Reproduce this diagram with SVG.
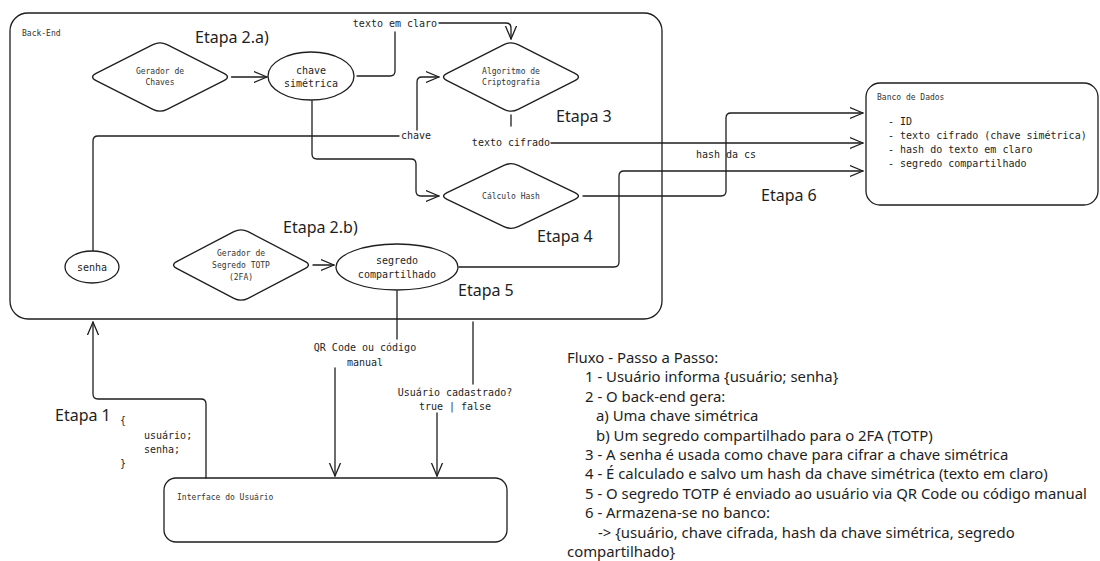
<svg xmlns="http://www.w3.org/2000/svg" width="1100" height="561" viewBox="0 0 1100 561">
<defs>
<marker id="arr" markerUnits="userSpaceOnUse" markerWidth="16" markerHeight="14" refX="13" refY="7" orient="auto">
<path d="M0,1.5 L13,7 L0,12.5" fill="none" stroke="#1e1e1e" stroke-width="1.3" stroke-linecap="round" stroke-linejoin="round"/>
</marker>
</defs>
<style>
.s{fill:none;stroke:#1e1e1e;stroke-width:1.3;stroke-linecap:round;stroke-linejoin:round}
.w{fill:#ffffff;stroke:#1e1e1e;stroke-width:1.3}
.m{font-family:"DejaVu Sans Mono","Liberation Mono",monospace;fill:#1e1e1e}
.m8{font-size:8px;fill:#333333}
.m10{font-size:10px}
.c{text-anchor:middle}
.e{font-family:"Noto Sans","Liberation Sans",sans-serif;font-size:16px;fill:#1e1e1e}
.f{font-family:"Noto Sans","Liberation Sans",sans-serif;font-size:14.9px;fill:#1e1e1e}
</style>
<rect width="1100" height="561" fill="#ffffff"/>

<g id="backend">
<rect x="10" y="13" width="652" height="306" rx="18" class="s"/>
<text x="22" y="36" class="m m8">Back-End</text>
</g>

<g id="banco">
<rect x="866" y="83" width="232" height="122" rx="14" class="w"/>
<text x="877" y="100" class="m m8">Banco de Dados</text>
<text x="888" y="125" class="m m10">- ID</text>
<text x="888" y="139" class="m m10">- texto cifrado (chave simétrica)</text>
<text x="888" y="153" class="m m10">- hash do texto em claro</text>
<text x="888" y="167" class="m m10">- segredo compartilhado</text>
</g>

<g id="interface">
<rect x="164" y="478" width="343" height="64" rx="12" class="w"/>
<text x="177" y="500" class="m m8">Interface do Usuário</text>
</g>

<g id="connectors">
<path d="M231.5,77 L267,77" class="s" marker-end="url(#arr)"/>
<path d="M357,76 L390,76 Q395,76 395,71 L395,32" class="s"/>
<path d="M439,23 L506,23 Q511,23 511,28 L511,39" class="s" marker-end="url(#arr)"/>
<path d="M93,251 L93,141 Q93,136 98,136 L399,136" class="s"/>
<path d="M417,130 L417,82 Q417,77 422,77 L439,77" class="s" marker-end="url(#arr)"/>
<path d="M511,115 L511,126" class="s"/>
<path d="M551,143 L863,143" class="s" marker-end="url(#arr)"/>
<path d="M312,101 L312,154 Q312,159 317,159 L411,159 Q416,159 416,164 L416,191 Q416,196 421,196 L439,196" class="s" marker-end="url(#arr)"/>
<path d="M583,196 L721,196 Q726,196 726,191 L726,118 Q726,113 731,113 L863,113" class="s" marker-end="url(#arr)"/>
<path d="M459,267 L614,267 Q619,267 619,262 L619,176 Q619,171 624,171 L863,171" class="s" marker-end="url(#arr)"/>
<path d="M313,265 L334,265" class="s" marker-end="url(#arr)"/>
<path d="M397,291 L397,339" class="s"/>
<path d="M335,368 L335,476" class="s" marker-end="url(#arr)"/>
<path d="M473,322 L473,384" class="s"/>
<path d="M437,413 L437,476" class="s" marker-end="url(#arr)"/>
<path d="M206,478 L206,404 Q206,399 201,399 L98,399 Q93,399 93,394 L93,322" class="s" marker-end="url(#arr)"/>
<text x="395" y="26.5" class="m m10 c">texto em claro</text>
<text x="416" y="138.5" class="m m10 c">chave</text>
<text x="511" y="146" class="m m10 c">texto cifrado</text>
<text x="726" y="157.5" class="m m10 c">hash da cs</text>
<text x="365" y="350.5" class="m m10 c">QR Code ou código</text>
<text x="365" y="365.5" class="m m10 c">manual</text>
<text x="455" y="395.5" class="m m10 c">Usuário cadastrado?</text>
<text x="455" y="409.5" class="m m10 c">true | false</text>
</g>

<g id="gerador-chaves">
<path d="M96.1,73.4 L152.9,44.6 Q160,41 167.1,44.6 L223.9,73.4 Q231,77 223.9,80.6 L167.1,109.4 Q160,113 152.9,109.4 L96.1,80.6 Q89,77 96.1,73.4 Z" class="w"/>
<text x="160" y="74" class="m m8 c">Gerador de</text>
<text x="160" y="85" class="m m8 c">Chaves</text>
</g>

<g id="chave-simetrica">
<ellipse cx="311" cy="76" rx="43" ry="24" class="w"/>
<text x="311" y="73.5" class="m m10 c">chave</text>
<text x="311" y="87" class="m m10 c">simétrica</text>
</g>

<g id="algoritmo">
<path d="M447.1,73.4 L503.9,44.6 Q511,41 518.1,44.6 L574.9,73.4 Q582,77 574.9,80.6 L518.1,109.4 Q511,113 503.9,109.4 L447.1,80.6 Q440,77 447.1,73.4 Z" class="w"/>
<text x="511" y="74" class="m m8 c">Algoritmo de</text>
<text x="511" y="85" class="m m8 c">Criptografia</text>
</g>

<g id="calculo-hash">
<path d="M447.1,192.6 L503.9,165.4 Q511,162 518.1,165.4 L574.9,192.6 Q582,196 574.9,199.4 L518.1,226.6 Q511,230 503.9,226.6 L447.1,199.4 Q440,196 447.1,192.6 Z" class="w"/>
<text x="511" y="198.8" class="m m8 c">Cálculo Hash</text>
</g>

<g id="senha">
<ellipse cx="92" cy="267" rx="27" ry="16" class="w"/>
<text x="92" y="271" class="m m10 c">senha</text>
</g>

<g id="gerador-segredo">
<path d="M177.1,261.3 L233.9,231.7 Q241,228 248.1,231.7 L304.9,261.3 Q312,265 304.9,268.7 L248.1,298.3 Q241,302 233.9,298.3 L177.1,268.7 Q170,265 177.1,261.3 Z" class="w"/>
<text x="241" y="256" class="m m8 c">Gerador de</text>
<text x="241" y="268" class="m m8 c">Segredo TOTP</text>
<text x="241" y="280" class="m m8 c">(2FA)</text>
</g>

<g id="segredo">
<ellipse cx="397" cy="267" rx="61" ry="23" class="w"/>
<text x="397" y="263.5" class="m m10 c">segredo</text>
<text x="397" y="277.5" class="m m10 c">compartilhado</text>
</g>

<g id="etapas">
<text x="195" y="43" class="e">Etapa 2.a)</text>
<text x="556" y="122" class="e">Etapa 3</text>
<text x="761" y="201" class="e">Etapa 6</text>
<text x="537" y="242" class="e">Etapa 4</text>
<text x="283" y="233" class="e">Etapa 2.b)</text>
<text x="458" y="296" class="e">Etapa 5</text>
<text x="55" y="421" class="e">Etapa 1</text>
</g>

<g id="payload">
<text x="120" y="423.5" class="m m10">{</text>
<text x="144" y="438.5" class="m m10">usuário;</text>
<text x="144" y="452.5" class="m m10">senha;</text>
<text x="120" y="466.5" class="m m10">}</text>
</g>

<g id="fluxo">
<text x="567" y="363" class="f">Fluxo - Passo a Passo:</text>
<text x="585" y="382.4" class="f">1 - Usuário informa {usuário; senha}</text>
<text x="585" y="401.8" class="f">2 - O back-end gera:</text>
<text x="596" y="421.2" class="f">a) Uma chave simétrica</text>
<text x="596" y="440.6" class="f">b) Um segredo compartilhado para o 2FA (TOTP)</text>
<text x="585" y="460" class="f">3 - A senha é usada como chave para cifrar a chave simétrica</text>
<text x="585" y="479.4" class="f">4 - É calculado e salvo um hash da chave simétrica (texto em claro)</text>
<text x="585" y="498.8" class="f">5 - O segredo TOTP é enviado ao usuário via QR Code ou código manual</text>
<text x="585" y="518.2" class="f">6 - Armazena-se no banco:</text>
<text x="598" y="537.6" class="f">-&gt; {usuário, chave cifrada, hash da chave simétrica, segredo</text>
<text x="567" y="557" class="f">compartilhado}</text>
</g>
</svg>
